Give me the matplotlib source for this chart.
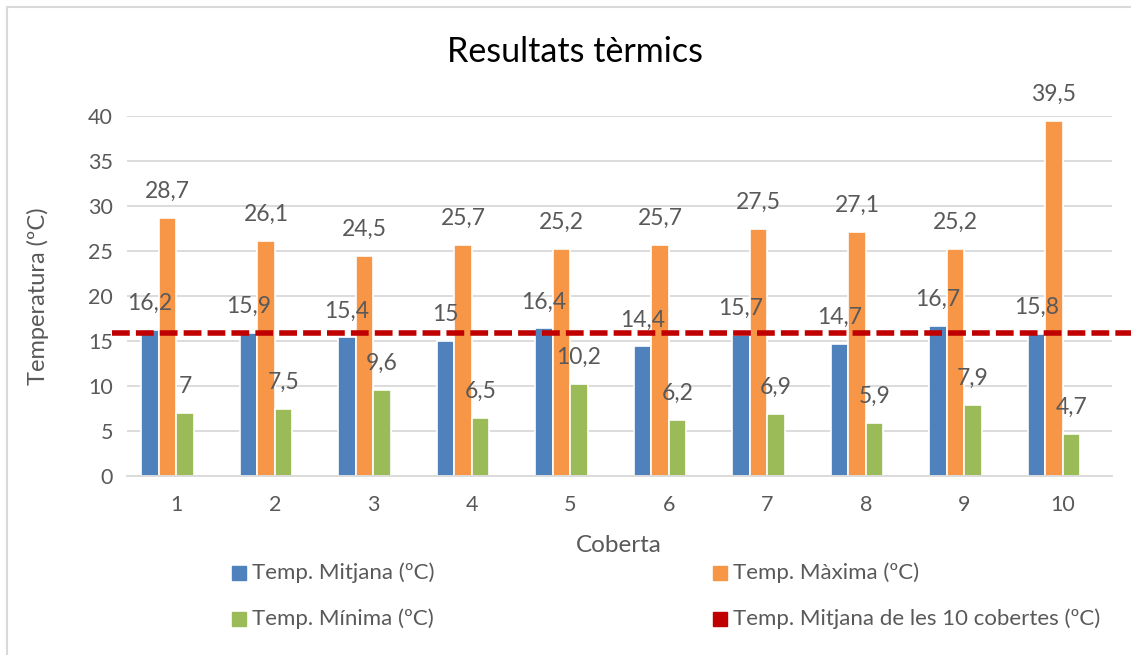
import matplotlib
matplotlib.use("Agg")
import matplotlib.pyplot as plt
from matplotlib.patches import Rectangle, Patch
import numpy as np

categories = ["1", "2", "3", "4", "5", "6", "7", "8", "9", "10"]
temp_mitjana = [16.2, 15.9, 15.4, 15.0, 16.4, 14.4, 15.7, 14.7, 16.7, 15.8]
temp_maxima = [28.7, 26.1, 24.5, 25.7, 25.2, 25.7, 27.5, 27.1, 25.2, 39.5]
temp_minima = [7.0, 7.5, 9.6, 6.5, 10.2, 6.2, 6.9, 5.9, 7.9, 4.7]
mitjana_global = 15.9
series_names = ["Temp. Mitjana (ºC)", "Temp. Màxima (ºC)", "Temp. Mínima (ºC)",
                "Temp. Mitjana de les 10 cobertes (ºC)"]
yticks = [0, 5, 10, 15, 20, 25, 30, 35, 40]

plt.rcParams['font.family'] = ['Lato', 'DejaVu Sans']
TXT = "#595959"
colors = ["#4F81BD", "#F79646", "#9BBB59"]
red = "#C00000"

W, H = 1131, 655
fig = plt.figure(figsize=(W / 100, H / 100), dpi=100)
ax = fig.add_axes([127 / W, 1 - 476 / H, (1112 - 127) / W, (476 - 116) / H])

# border
fig.patches.append(Rectangle((7 / W, -0.05), 1.2, 1 - 7 / H + 0.05, transform=fig.transFigure,
                             fill=False, edgecolor="#D9D9D9", linewidth=1.5))

x = np.arange(len(categories))
step = 0.178
offsets = [-1.5 * step, -0.5 * step, 0.5 * step]
all_series = [temp_mitjana, temp_maxima, temp_minima]
for vals, off, c in zip(all_series, offsets, colors):
    ax.bar(x + off, vals, width=step, color=c, edgecolor="white", linewidth=1.2, zorder=2)
    for xi, v in zip(x + off, vals):
        lab = f"{v:g}".replace(".", ",")
        ax.annotate(lab, (xi, v), xytext=(0, 19), textcoords="offset points",
                    ha="center", va="center", fontsize=16.5, color=TXT, zorder=4,
                    annotation_clip=False)

ax.plot([-0.65, 10.2], [mitjana_global, mitjana_global], color=red, linewidth=4,
        dashes=(3.2, 1.1), clip_on=False, zorder=3)

ax.set_xlim(-0.5, 9.5)
ax.set_ylim(0, 40)
ax.set_yticks(yticks)
ax.set_xticks(x)
ax.set_xticklabels(categories)
ax.grid(axis="y", color="#D9D9D9", linewidth=1.3, zorder=0)
ax.set_axisbelow(True)
for s in ["top", "right", "left"]:
    ax.spines[s].set_visible(False)
ax.spines["bottom"].set_color("#D9D9D9")
ax.spines["bottom"].set_linewidth(1.3)
ax.tick_params(axis="both", length=0, labelsize=15.5, colors=TXT, pad=10)
ax.tick_params(axis="x", pad=14)

fig.text(575 / W, 1 - 52 / H, "Resultats tèrmics", ha="center", va="center",
         fontsize=24.5, color="black")
fig.text(38 / W, 1 - 296 / H, "Temperatura (ºC)", ha="center", va="center",
         rotation=90, fontsize=17, color=TXT)
fig.text(619 / W, 1 - 546 / H, "Coberta", ha="center", va="center", fontsize=17.5, color=TXT)

handles = [Patch(color=colors[0]), Patch(color=colors[1]), Patch(color=colors[2]), Patch(color=red)]
pos = [(232, 573), (713, 573), (232, 619), (713, 619)]
for h, name, (px, py) in zip(handles, series_names, pos):
    fig.patches.append(Rectangle((px / W, 1 - (py + 7) / H), 14 / W, 14 / H,
                                 transform=fig.transFigure, color=h.get_facecolor()))
    fig.text((px + 20) / W, 1 - py / H, name, ha="left", va="center", fontsize=16, color=TXT)

fig.savefig("out.png", dpi=100)
